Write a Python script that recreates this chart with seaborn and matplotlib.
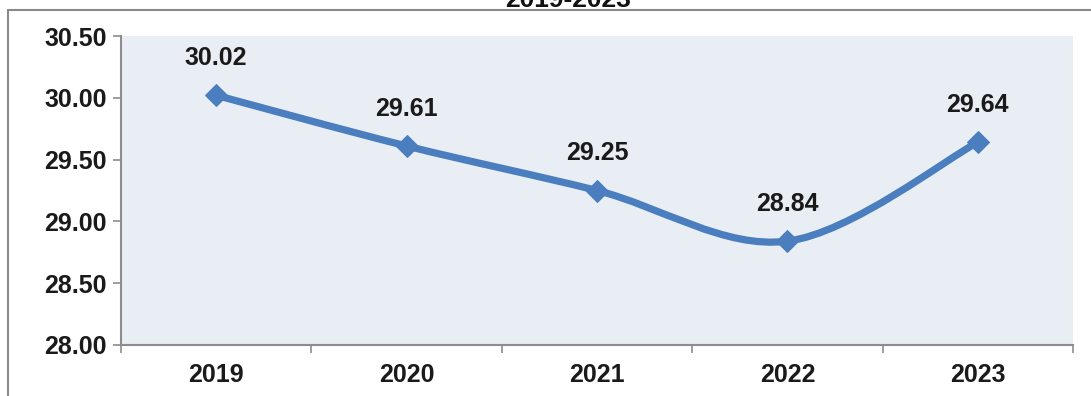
import numpy as np
import matplotlib
matplotlib.use("Agg")
import matplotlib.pyplot as plt
from matplotlib.path import Path
from matplotlib.patches import PathPatch, Rectangle
import seaborn as sns

# Chart data
years = ["2019", "2020", "2021", "2022", "2023"]
values = [30.02, 29.61, 29.25, 28.84, 29.64]
title_text = "2019-2023"
y_ticks = [28.00, 28.50, 29.00, 29.50, 30.00, 30.50]

line_color = "#4A7EBE"
plot_bg = "#E9EDF4"
axis_gray = "#8C8C8C"
text_color = "#1A1A1A"
label_size = 18

sns.set_theme(style="white")
plt.rcParams["font.family"] = ["Liberation Sans", "DejaVu Sans"]

fig = plt.figure(figsize=(10.91, 3.96), dpi=100)
ax = fig.add_axes([121 / 1091, 51 / 396, 952 / 1091, 309 / 396])
ax.set_facecolor(plot_bg)

x = np.arange(len(years), dtype=float)
y = np.array(values, dtype=float)

# Smoothed connecting line (Catmull-Rom segments expressed as cubic Beziers)
pts = np.column_stack([x, y])
ext = np.vstack([pts[0], pts, pts[-1]])
verts = [tuple(pts[0])]
codes = [Path.MOVETO]
for i in range(len(pts) - 1):
    p0, p1, p2, p3 = ext[i], ext[i + 1], ext[i + 2], ext[i + 3]
    c1 = p1 + (p2 - p0) / 6.0
    c2 = p2 - (p3 - p1) / 6.0
    verts += [tuple(c1), tuple(c2), tuple(p2)]
    codes += [Path.CURVE4, Path.CURVE4, Path.CURVE4]
curve = PathPatch(Path(verts, codes), facecolor="none", edgecolor=line_color,
                  linewidth=5.2, capstyle="round", joinstyle="round", zorder=3)
ax.add_patch(curve)

# Diamond markers at each year
sns.lineplot(x=x, y=y, ax=ax, marker="D", markersize=11.5, linestyle="",
             color=line_color, markeredgecolor=line_color, zorder=4)

# Value labels above the points
for xi, yi in zip(x, y):
    ax.annotate(f"{yi:.2f}", (xi, yi), xytext=(0, 18), textcoords="offset points",
                ha="center", va="bottom", fontsize=label_size, fontweight="bold",
                color=text_color, zorder=5)

ax.set_xlim(-0.5, len(years) - 0.5)
ax.set_ylim(28.0, 30.5)

ax.set_yticks(y_ticks)
ax.set_yticklabels([f"{t:.2f}" for t in y_ticks])
ax.set_xticks(x)
ax.set_xticklabels(years)
ax.set_xticks(np.arange(-0.5, len(years), 1.0), minor=True)

ax.tick_params(axis="y", which="major", direction="out", length=6, width=1.2,
               color=axis_gray, pad=4, labelsize=label_size, labelcolor=text_color, left=True)
ax.tick_params(axis="x", which="major", length=0, pad=13, labelsize=label_size,
               labelcolor=text_color)
ax.tick_params(axis="x", which="minor", direction="out", length=6, width=1.2,
               color=axis_gray, bottom=True)
for lbl in ax.get_xticklabels() + ax.get_yticklabels():
    lbl.set_fontweight("bold")

for side in ("top", "right"):
    ax.spines[side].set_visible(False)
for side in ("left", "bottom"):
    ax.spines[side].set_color(axis_gray)
    ax.spines[side].set_linewidth(1.5)
ax.grid(False)

# Outer chart frame
fig.patches.append(Rectangle((8 / 1091, -0.05), 1.1, 1 - 10 / 396 + 0.05,
                             transform=fig.transFigure, facecolor="none",
                             edgecolor="#8A8A8A", linewidth=1.5, zorder=0))

# Title sitting above the frame
fig.text(568 / 1091, 1 - 7 / 396, title_text, ha="center", va="baseline",
         fontsize=19, fontweight="bold", color="#111111")

fig.savefig("out.png", dpi=100)
